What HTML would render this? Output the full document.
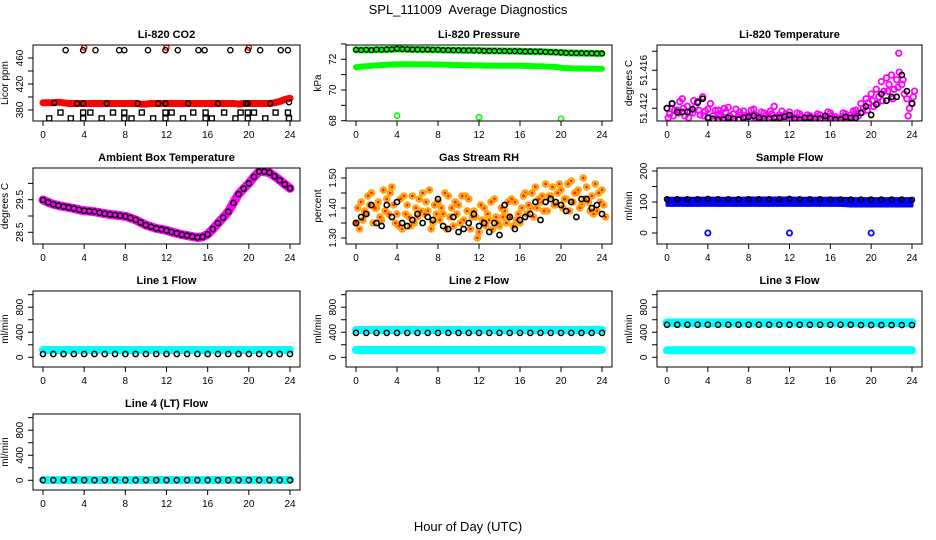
<!DOCTYPE html>
<html><head><meta charset="utf-8"><style>
html,body{margin:0;padding:0;background:#fff;}
svg{display:block;font-family:"Liberation Sans",Arial,sans-serif;}
</style></head><body>
<svg id="chart" width="936" height="540" viewBox="0 0 936 540" xmlns="http://www.w3.org/2000/svg">
<rect x="0" y="0" width="936" height="540" fill="#fff"/>
<text x="468" y="14" text-anchor="middle" font-size="13">SPL_111009&#160; Average Diagnostics</text>
<text x="468" y="531" text-anchor="middle" font-size="13">Hour of Day (UTC)</text>
</svg>
<script>
// ---------- data ----------
const hrs = [0,0.5,1,1.5,2,2.5,3,3.5,4,4.5,5,5.5,6,6.5,7,7.5,8,8.5,9,9.5,10,10.5,11,11.5,12,12.5,13,13.5,14,14.5,15,15.5,16,16.5,17,17.5,18,18.5,19,19.5,20,20.5,21,21.5,22,22.5,23,23.5,24];
const hrs25 = [0,1,2,3,4,5,6,7,8,9,10,11,12,13,14,15,16,17,18,19,20,21,22,23,24];
const xTicks = [0,4,8,12,16,20,24];

// CO2
const co2Red = [391,391,391,392,391,390,390,390,390,390, 390,390,390,390,390,390,390,390,390,389, 389,390,390,390,390,390,390,390,390,390, 390,390,390,390,390,390,390,390,389,390, 390,390,390,390,390,391,393,396,398];
const co2TopHrs = [2.2,3.9,5.1,7.4,7.9,10.2,11.9,13.1,15.1,15.7,18.2,19.9,21.1,23.1,23.8];
const co2TopVals = [472,472,472,472,472,472,472,472,472,472,472,472,472,472,472];
const co2RedTopHrs = [4,12,20];
const co2RedTopVals = [476,476,476];
const co2MidHrs = [1.1,3.3,3.9,6.2,9.2,11.2,11.9,14.1,17.0,19.7,19.9,22.1,23.9];
const co2MidVals = [391,390,390,390,390,390,390,390,390,390,390,390,392];
const co2SqHrs1 = [1.7,3.9,4.6,6.8,7.9,9.6,11.9,12.5,14.6,15.8,17.6,19.2,19.9,20.5,22.6,23.8];
const co2SqVals1 = [376,376,376,376,376,376,376,376,376,376,376,376,376,376,376,376];
const co2SqHrs2 = [0.6,2.7,3.9,5.7,7.9,8.6,10.7,11.9,13.6,15.8,16.4,18.7,19.9,21.6,23.9];
const co2SqVals2 = [367,367,367,367,367,367,367,367,367,367,367,367,367,367,367];

// Pressure
const presUp = [72.62,72.60,72.62,72.60,72.63,72.62,72.64,72.65,72.68, 72.66,72.65,72.64,72.64,72.63,72.63,72.62,72.62, 72.60,72.60,72.59,72.59,72.58,72.58,72.57,72.57, 72.55,72.55,72.55,72.54,72.54,72.53,72.53,72.52, 72.51,72.51,72.50,72.50,72.48,72.47,72.46,72.44, 72.42,72.41,72.40,72.40,72.39,72.39,72.38,72.38];
const presLow = [71.48,71.52,71.55,71.58,71.60,71.62,71.64,71.66,71.67, 71.68,71.68,71.68,71.67,71.67,71.67,71.66,71.66, 71.65,71.64,71.63,71.62,71.61,71.61,71.60,71.60, 71.59,71.59,71.59,71.58,71.58,71.58,71.58,71.58, 71.57,71.56,71.55,71.55,71.53,71.52,71.50,71.45, 71.42,71.41,71.40,71.40,71.39,71.39,71.38,71.38];
const presOutHrs = [4,12,20];
const presOutVals = [68.33,68.22,68.12];

// Li-820 temperature
const tempA = [51.4120,51.4125,51.4118,51.4130,51.4122,51.4115,51.4127,51.4132,51.4119, 51.4112,51.4118,51.4110,51.4121,51.4114,51.4109,51.4117,51.4112, 51.4119,51.4111,51.4115,51.4110,51.4122,51.4113,51.4108,51.4116, 51.4110,51.4114,51.4109,51.4112,51.4108,51.4113,51.4110,51.4115, 51.4111,51.4109,51.4114,51.4113,51.4118,51.4125,51.4130,51.4135, 51.4140,51.4148,51.4152,51.4155,51.4150,51.4145,51.4130,51.4125];
const tempB = [51.4114,51.4118,51.4127,51.4112,51.4116,51.4121,51.4113,51.4117,51.4125, 51.4118,51.4111,51.4116,51.4109,51.4119,51.4113,51.4110,51.4118, 51.4110,51.4116,51.4109,51.4114,51.4111,51.4117,51.4112,51.4109, 51.4115,51.4109,51.4113,51.4108,51.4114,51.4109,51.4116,51.4110, 51.4108,51.4115,51.4110,51.4117,51.4112,51.4120,51.4126,51.4122, 51.4132,51.4138,51.4145,51.4140,51.4158,51.4135,51.4120,51.4138];
const tempC = [51.4110,51.4112,51.4115,51.4120,51.4110,51.4128,51.4118,51.4112,51.4110, 51.4108,51.4114,51.4120,51.4112,51.4108,51.4116,51.4112,51.4109, 51.4113,51.4108,51.4112,51.4117,51.4109,51.4110,51.4114,51.4111, 51.4108,51.4111,51.4108,51.4110,51.4111,51.4108,51.4109,51.4112, 51.4109,51.4111,51.4108,51.4110,51.4115,51.4116,51.4118,51.4128, 51.4125,51.4128,51.4138,51.4130,51.4142,51.4150,51.4112,51.4132];
const tempBlack = [51.4120,51.4125,51.4116,51.4116,51.4116,51.4119,51.4126,51.4130,51.4110, 51.4109,51.4108,51.4108,51.4110,51.4109,51.4108,51.4110,51.4111, 51.4112,51.4110,51.4109,51.4109,51.4110,51.4110,51.4111,51.4113, 51.4109,51.4108,51.4110,51.4110,51.4109,51.4109,51.4112,51.4109, 51.4108,51.4108,51.4111,51.4110,51.4110,51.4115,51.4122,51.4113, 51.4124,51.4135,51.4128,51.4132,51.4132,51.4155,51.4138,51.4125];
const tempOutHrs = [22.7];
const tempOutVals = [51.4178];

// Ambient box temperature
const amb = [29.49,29.42,29.36,29.32,29.29,29.26,29.23,29.19,29.16,29.15, 29.13,29.10,29.07,29.05,29.03,29.01,28.99,28.94,28.88,28.80, 28.72,28.67,28.62,28.59,28.56,28.51,28.47,28.43,28.40,28.37, 28.34,28.36,28.44,28.60,28.78,28.95,29.13,29.40,29.67,29.84, 30.00,30.20,30.36,30.36,30.33,30.22,30.10,29.97,29.85];

// Gas stream RH
const rhA = [1.35,1.42,1.38,1.45,1.40,1.36,1.43,1.47,1.38, 1.33,1.41,1.44,1.37,1.45,1.39,1.35,1.42, 1.38,1.44,1.34,1.41,1.36,1.43,1.39,1.32, 1.40,1.36,1.43,1.34,1.39,1.37,1.42,1.35, 1.45,1.40,1.47,1.42,1.48,1.44,1.41,1.46, 1.43,1.49,1.45,1.41,1.47,1.44,1.39,1.46];
const rhB = [1.40,1.36,1.44,1.35,1.42,1.46,1.38,1.41,1.34, 1.44,1.37,1.35,1.43,1.38,1.46,1.41,1.36, 1.45,1.37,1.42,1.35,1.44,1.33,1.37,1.41, 1.34,1.42,1.37,1.40,1.35,1.43,1.36,1.40, 1.38,1.45,1.40,1.44,1.39,1.47,1.45,1.40, 1.48,1.42,1.46,1.50,1.42,1.38,1.45,1.41];
const rhC = [1.33,1.39,1.41,1.40,1.37,1.39,1.45,1.35,1.43, 1.38,1.34,1.40,1.39,1.42,1.33,1.38,1.40, 1.33,1.40,1.38,1.44,1.39,1.37,1.30,1.36, 1.38,1.33,1.35,1.37,1.42,1.34,1.38,1.44, 1.41,1.37,1.43,1.39,1.44,1.41,1.48,1.43, 1.39,1.45,1.40,1.43,1.39,1.48,1.42,1.37];
const rhBlack = [1.35,1.37,1.38,1.41,1.35,1.34,1.41,1.37,1.42, 1.35,1.34,1.36,1.38,1.35,1.37,1.36,1.43, 1.34,1.33,1.37,1.32,1.33,1.35,1.38,1.34, 1.35,1.32,1.35,1.31,1.41,1.37,1.33,1.36, 1.37,1.38,1.42,1.36,1.42,1.43,1.42,1.41, 1.39,1.42,1.37,1.43,1.43,1.40,1.41,1.38];

// Sample flow
const sampleHi = [112,112,112,112,113,112,112,112,113,113,113,113,113,112,112,112,112,112,111,111,111,111,111,111,111];
const sampleLo = [89,89,89,89,89,89,89,89,89,89,89,89,89,89,89,89,89,89,87,87,87,87,87,87,87];
const sampleBlack = [109,109,109,109,110,109,109,109,109,109,109,109,110,109,109,109,108,108,108,108,108,108,108,108,107];
const sampleOutHrs = [4,12,20];
const sampleOutVals = [0,0,0];

// Line flows
const line1Cyan = [117,117,117,117,117,117,117,117,117,117,117,117,117,117,117,117,117,117,117,117,117,117,117,117,117];
const line1Black = [53,53,53,53,53,53,53,53,53,53,53,53,53,53,53,53,53,53,53,53,53,53,53,53,53];
const line2CyanHi = [437,437,437,437,437,437,437,437,437,437,437,437,437,437,437,437,437,437,437,437,437,437,437,437,437];
const line2CyanLo = [117,117,117,117,117,117,117,117,117,117,117,117,117,117,117,117,117,117,117,117,117,117,117,117,117];
const line2Black = [390,390,390,390,390,390,390,390,390,390,390,390,390,390,390,390,390,390,390,390,390,390,390,390,390];
const line3CyanHi = [550,550,550,550,550,550,550,550,550,550,550,550,550,550,550,550,550,550,550,550,550,550,550,550,550];
const line3CyanLo = [112,112,112,112,112,112,112,112,112,112,112,112,112,112,112,112,112,112,112,112,112,112,112,112,112];
const line3Black = [520,520,520,520,520,520,520,520,520,520,520,520,520,520,520,520,520,520,520,515,515,515,515,515,515];
const line4Cyan = [5,5,5,5,5,5,5,5,5,5,5,5,5,5,5,5,5,5,5,5,5,5,5,5,5];
const line4Black = [3,3,3,3,3,3,3,3,3,3,3,3,3,3,3,3,3,3,3,3,3,3,3,3,3];

// ---------- drawing ----------
const NS = "http://www.w3.org/2000/svg";
const svg = document.getElementById('chart');
const cols = [{l:33,r:300,x0:43,x24:290},{l:346,r:612,x0:356,x24:602},{l:657,r:922,x0:667,x24:912}];
const rowTops = [45,168,291,414];
const BOXH = 76;

function mk(tag, attrs, parent){
  const e = document.createElementNS(NS, tag);
  for (const k in attrs) e.setAttribute(k, attrs[k]);
  (parent || svg).appendChild(e);
  return e;
}

function panel(name, col, row, title, ylab, ylim, ticks, labels){
  const c = cols[col], top = rowTops[row], bot = top + BOXH;
  const g = mk('g', {});
  
  
  const X = h => c.x0 + h * (c.x24 - c.x0) / 24;
  const Y = v => bot - (v - ylim[0]) / (ylim[1] - ylim[0]) * BOXH;
  const clipId = 'clip-' + name;
  const cp = mk('clipPath', {id: clipId}, g);
  mk('rect', {x:c.l, y:top, width:c.r-c.l, height:BOXH}, cp);
  const plot = mk('g', {'clip-path':'url(#' + clipId + ')'}, g);
  
  
  const box = mk('rect', {x:c.l, y:top, width:c.r-c.l, height:BOXH, fill:'none', stroke:'#000', 'stroke-width':1}, g);
  
  
  const t = mk('text', {x:(c.l+c.r)/2, y:top-7, 'text-anchor':'middle', 'font-size':11, 'font-weight':'bold'}, g);
  t.textContent = title;
  
  
  const yl = mk('text', {x:0, y:0, 'text-anchor':'middle', 'font-size':10, transform:'translate(' + (c.l-25) + ',' + ((top+bot)/2) + ') rotate(-90)'}, g);
  yl.textContent = ylab;
  
  
  const ya = mk('line', {x1:c.l, x2:c.l, y1:Y(ticks[0]), y2:Y(ticks[ticks.length-1]), stroke:'#000'}, g);
  
  
  ticks.forEach(v => {
    const tk = mk('line', {x1:c.l-5, x2:c.l, y1:Y(v), y2:Y(v), stroke:'#000'}, g);
    
    
  });
  labels.forEach(v => {
    const lb = mk('text', {x:0, y:0, 'text-anchor':'middle', 'font-size':10, transform:'translate(' + (c.l-10) + ',' + Y(v) + ') rotate(-90)'}, g);
    lb.textContent = String(v);
    
    
  });
  const xa = mk('line', {x1:X(0), x2:X(24), y1:bot, y2:bot, stroke:'#000'}, g);
  
  
  xTicks.forEach(h => {
    const tk = mk('line', {x1:X(h), x2:X(h), y1:bot, y2:bot+5, stroke:'#000'}, g);
    
    
    const lb = mk('text', {x:X(h), y:bot+17, 'text-anchor':'middle', 'font-size':10}, g);
    lb.textContent = String(h);
    
    
  });
  return {X, Y, plot};
}

function dots(P, hs, vs, color, name, r, sw, fill){
  const g = mk('g', {}, P.plot);
  
  
  for (let i = 0; i < vs.length; i++){
    const d = mk('circle', {cx:P.X(hs[i]), cy:P.Y(vs[i]), r:r||2.6, fill:fill||'none', stroke:color, 'stroke-width':sw||1.4}, g);
    
    
  }
}
function squares(P, hs, vs, name){
  const g = mk('g', {}, P.plot);
  
  
  for (let i = 0; i < vs.length; i++){
    const s = mk('rect', {x:P.X(hs[i])-2.5, y:P.Y(vs[i])-2.5, width:5, height:5, fill:'none', stroke:'#000', 'stroke-width':1.4}, g);
    
    
  }
}
function band(P, hs, vs, color, width, name){
  const pts = hs.map((h,i) => P.X(h) + ',' + P.Y(vs[i])).join(' ');
  const l = mk('polyline', {points:pts, fill:'none', stroke:color, 'stroke-width':width, 'stroke-linejoin':'round', 'stroke-linecap':'round'}, P.plot);
  
  
}
function area(P, hs, hi, lo, color, name){
  const up = hs.map((h,i) => P.X(h) + ',' + P.Y(hi[i]));
  const dn = hs.map((h,i) => P.X(h) + ',' + P.Y(lo[i])).reverse();
  const p = mk('polygon', {points:up.concat(dn).join(' '), fill:color, stroke:color, 'stroke-width':3, 'stroke-linejoin':'round'}, P.plot);
  
  
}

// CO2
let P = panel('co2', 0, 0, 'Li-820 CO2', 'Licor ppm', [363, 480], [380,400,420,440,460], [380,420,460]);
band(P, hrs, co2Red, '#ff0000', 7, 'co2-red-band');
dots(P, co2RedTopHrs, co2RedTopVals, '#ff0000', 'co2-red-outliers');
dots(P, co2TopHrs, co2TopVals, '#000', 'co2-black-top');
dots(P, co2MidHrs, co2MidVals, '#000', 'co2-black-mid');
squares(P, co2SqHrs1, co2SqVals1, 'co2-squares-upper');
squares(P, co2SqHrs2, co2SqVals2, 'co2-squares-lower');

// Pressure
P = panel('pressure', 1, 0, 'Li-820 Pressure', 'kPa', [67.98, 72.93], [68,69,70,71,72,73], [68,70,72]);
band(P, hrs, presUp, '#00ff00', 7, 'pressure-upper-band');
band(P, hrs, presLow, '#00ff00', 6, 'pressure-lower-band');
dots(P, hrs, presUp, '#000', 'pressure-black', 2.4, 1.3);
dots(P, presOutHrs, presOutVals, '#00ff00', 'pressure-outliers', 2.6, 1.6);

// Li-820 temperature
P = panel('li820-temp', 2, 0, 'Li-820 Temperature', 'degrees C', [51.41066, 51.41866], [51.412,51.414,51.416,51.418], ['51.412','51.416']);
dots(P, hrs, tempA, '#ff00ff', 'temp-magenta-a', 2.8, 1.8);
dots(P, hrs.map(h => h + 0.25), tempB, '#ff00ff', 'temp-magenta-b', 2.8, 1.8);
dots(P, hrs.map(h => h + 0.12), tempC, '#ff00ff', 'temp-magenta-c', 2.8, 1.8);
dots(P, tempOutHrs, tempOutVals, '#ff00ff', 'temp-outlier', 2.8, 1.8);
dots(P, hrs, tempBlack, '#000', 'temp-black', 2.6, 1.6);

// Ambient box temperature
P = panel('ambient', 0, 1, 'Ambient Box Temperature', 'degrees C', [28.141, 30.472], [28.5,29.0,29.5,30.0], ['28.5','29.5']);
band(P, hrs, amb, '#ff00ff', 9, 'ambient-magenta-band');
dots(P, hrs, amb, '#000', 'ambient-black', 2.6, 1.5);

// Gas stream RH
P = panel('rh', 1, 1, 'Gas Stream RH', 'percent', [1.28, 1.5333], [1.30,1.35,1.40,1.45,1.50], ['1.30','1.40','1.50']);
[rhA, rhB, rhC].forEach((arr, k) => {
  dots(P, hrs.map(h => h + k*0.17), arr, '#ffa500', 'rh-orange-' + k, 2.8, 2.0, 'none');
  dots(P, hrs.map(h => h + k*0.17), arr, '#ff2000', 'rh-red-core-' + k, 1.0, 1.0, '#ff2000');
});
dots(P, hrs, rhBlack, '#000', 'rh-black', 2.6, 1.6);

// Sample flow
P = panel('sample-flow', 2, 1, 'Sample Flow', 'ml/min', [-35.5, 209.7], [0,50,100,150,200], [0,100,200]);
area(P, hrs25, sampleHi, sampleLo, '#0000ff', 'sample-blue-band');
dots(P, hrs25, sampleBlack, '#000', 'sample-black', 2.5, 1.5);
dots(P, sampleOutHrs, sampleOutVals, '#0000ff', 'sample-outliers', 2.6, 1.8);

// Line flows
const lt = [0,200,400,600,800,1000], ll = [0,400,800], ly = [-155, 1059];
P = panel('line1', 0, 2, 'Line 1 Flow', 'ml/min', ly, lt, ll);
band(P, hrs25, line1Cyan, '#00ffff', 8, 'line1-cyan-band');
dots(P, hrs25, line1Black, '#000', 'line1-black', 2.6, 1.5);
P = panel('line2', 1, 2, 'Line 2 Flow', 'ml/min', ly, lt, ll);
band(P, hrs25, line2CyanHi, '#00ffff', 8, 'line2-cyan-upper');
band(P, hrs25, line2CyanLo, '#00ffff', 8, 'line2-cyan-lower');
dots(P, hrs25, line2Black, '#000', 'line2-black', 2.6, 1.5);
P = panel('line3', 2, 2, 'Line 3 Flow', 'ml/min', ly, lt, ll);
band(P, hrs25, line3CyanHi, '#00ffff', 9, 'line3-cyan-upper');
band(P, hrs25, line3CyanLo, '#00ffff', 8, 'line3-cyan-lower');
dots(P, hrs25, line3Black, '#000', 'line3-black', 2.6, 1.5);
P = panel('line4', 0, 3, 'Line 4 (LT) Flow', 'ml/min', ly, lt, ll);
band(P, hrs25, line4Cyan, '#00ffff', 8, 'line4-cyan-band');
dots(P, hrs25, line4Black, '#000', 'line4-black', 2.6, 1.5);
</script>
</body></html>
